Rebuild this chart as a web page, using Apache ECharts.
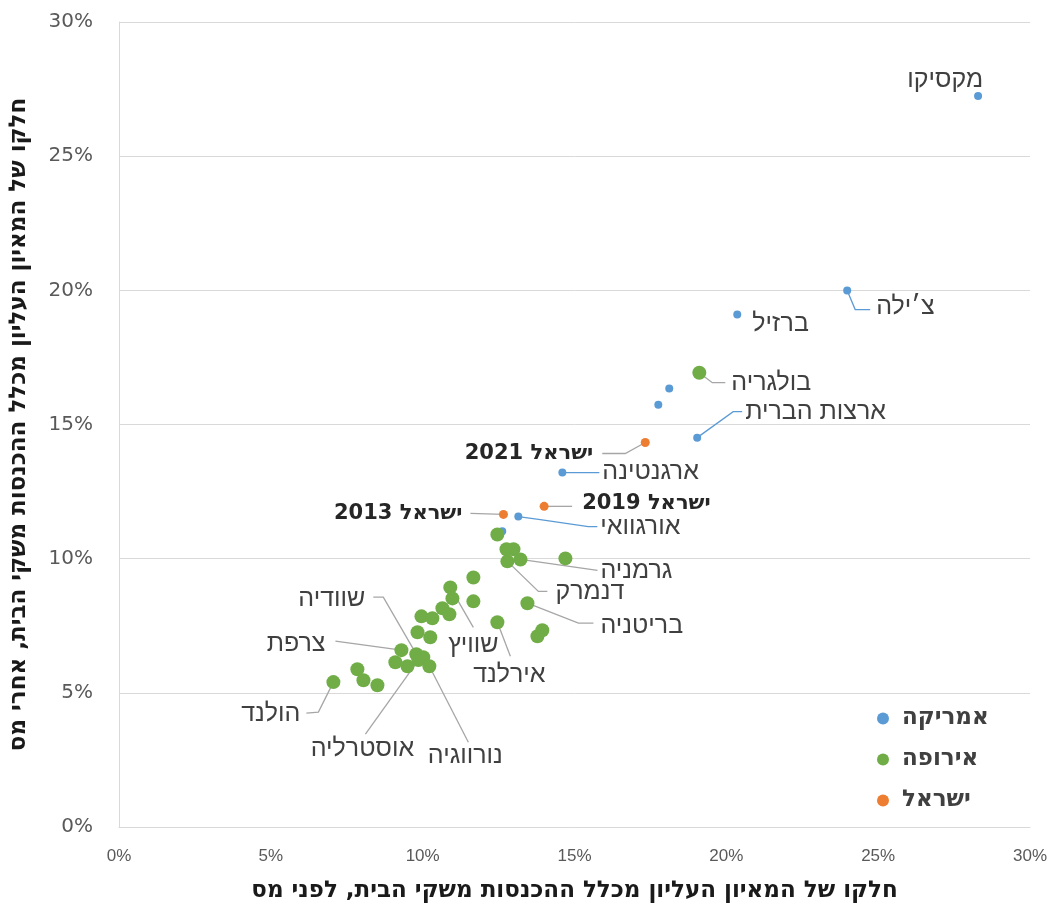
<!DOCTYPE html>
<html><head><meta charset="utf-8">
<script src="https://cdn.jsdelivr.net/npm/echarts@6/dist/echarts.min.js"></script>
<style>html,body{margin:0;padding:0;background:#fff}#c{width:1057px;height:908px}</style>
</head><body><div id="c"></div>
<script>
// ---- DATA ----
const xTicks = ['0%','5%','10%','15%','20%','25%','30%'];
const seriesNames = ['אמריקה','אירופה','ישראל'];

const americaNames = ['מקסיקו','צ׳ילה','ברזיל','','','ארצות הברית','ארגנטינה','אורגוואי',''];
const americaX = [28.29, 23.98, 20.36, 18.12, 17.76, 19.04, 14.60, 13.15, 12.62];
const americaY = [27.24, 19.99, 19.10, 16.34, 15.74, 14.51, 13.21, 11.57, 11.02];

const europeNames = ['בולגריה','','','','דנמרק','גרמניה','','','שוויץ','','','','','','',
  'בריטניה','אירלנד','','','','','צרפת','שוודיה','','אוסטרליה','','','נורווגיה','','','','הולנד'];
const europeX = [19.11, 12.46, 12.76, 12.99, 12.79, 13.22, 14.70, 11.67, 10.91, 10.98, 11.67, 10.65, 10.88, 9.96, 10.32,
  13.45, 12.46, 9.83, 10.25, 13.94, 13.78, 9.30, 9.79, 10.02, 9.86, 9.10, 9.50, 10.22, 7.85, 8.05, 8.51, 7.06];
const europeY = [16.93, 10.90, 10.35, 10.35, 9.90, 9.97, 10.01, 9.30, 8.93, 8.52, 8.41, 8.15, 7.93, 7.85, 7.78,
  8.34, 7.63, 7.26, 7.07, 7.33, 7.11, 6.59, 6.44, 6.33, 6.22, 6.14, 5.99, 5.99, 5.88, 5.47, 5.28, 5.40];

const israelNames = ['ישראל 2013','ישראל 2019','ישראל 2021'];
const israelX = [12.66, 14.00, 17.33];
const israelY = [11.65, 11.95, 14.33];

// ---- LAYOUT (pixel offsets of labels / leader lines relative to their point) ----
const labelLayout = {
  'מקסיקו':      {dx: 5,   dy: -16, align: 'right'},
  'צ׳ילה':       {dx: 29,  dy: 17,  align: 'left', line: [[0,0],[8,19],[23,19]]},
  'ברזיל':       {dx: 15,  dy: 10,  align: 'left'},
  'בולגריה':     {dx: 32,  dy: 10,  align: 'left', line: [[0,0],[13,10],[26,10]]},
  'ארצות הברית': {dx: 48,  dy: -26, align: 'left', line: [[0,0],[36,-26],[45,-26]]},
  'ארגנטינה':    {dx: 40,  dy: 0,   align: 'left', line: [[0,0],[37,0]]},
  'אורגוואי':    {dx: 82,  dy: 11,  align: 'left', line: [[0,0],[22,3],[70,10],[79,10]]},
  'ישראל 2013':  {dx: -41, dy: -1,  align: 'right', line: [[0,0],[-33,-1]]},
  'ישראל 2019':  {dx: 38,  dy: -3,  align: 'left', line: [[0,0],[28,0]]},
  'ישראל 2021':  {dx: -52, dy: 11,  align: 'right', line: [[0,0],[-20,11],[-43,11]]},
  'גרמניה':      {dx: 80,  dy: 12,  align: 'left', line: [[0,0],[70,10],[77,11]]},
  'דנמרק':       {dx: 48,  dy: 31,  align: 'left', line: [[0,0],[31,30],[40,30]]},
  'בריטניה':     {dx: 73,  dy: 23,  align: 'left', line: [[0,0],[51,20],[66,20]]},
  'שוודיה':      {dx: -51, dy: -55, align: 'right', line: [[0,0],[-33,-57],[-43,-57]]},
  'צרפת':        {dx: -76, dy: -6,  align: 'right', line: [[0,0],[-66,-9]]},
  'שוויץ':       {dx: 23,  dy: 58,  align: 'center', line: [[0,0],[23,40]]},
  'אירלנד':      {dx: 12,  dy: 53,  align: 'center', line: [[0,0],[13,34]]},
  'הולנד':       {dx: -33, dy: 32,  align: 'right', line: [[0,0],[-15,30],[-27,31]]},
  'אוסטרליה':    {dx: -56, dy: 89,  align: 'center', line: [[0,0],[-53,74]]},
  'נורווגיה':    {dx: 36,  dy: 90,  align: 'center', line: [[0,0],[39,76]]}
};

const colors = {america: '#5B9BD5', europe: '#70AD47', israel: '#ED7D31'};

function pts(xs, ys) { return xs.map((x, i) => [x, ys[i]]); }

const annotations = [];
function addAnn(names, xs, ys, lineColor, bold) {
  names.forEach((n, i) => { if (n) annotations.push({name: n, x: xs[i], y: ys[i], lineColor, bold}); });
}
addAnn(americaNames, americaX, americaY, colors.america, false);
addAnn(europeNames, europeX, europeY, '#A6A6A6', false);
addAnn(israelNames, israelX, israelY, '#A6A6A6', true);

const chart = echarts.init(document.getElementById('c'), null, {renderer: 'canvas'});
const hebFont = 'DejaVu Sans';

chart.setOption({
  animation: false,
  backgroundColor: '#fff',
  grid: {left: 119, right: 27, top: 22, bottom: 80, containLabel: false},
  legend: {
    orient: 'vertical', left: 872, top: 702, itemGap: 18, itemWidth: 12, itemHeight: 12,
    icon: 'circle',
    data: seriesNames,
    textStyle: {fontFamily: hebFont, fontSize: 23, fontWeight: 'bold', color: '#404040', padding: [0,0,0,8]}
  },
  xAxis: {
    type: 'value', min: 0, max: 30, interval: 5,
    name: 'חלקו של המאיון העליון מכלל ההכנסות משקי הבית, לפני מס',
    nameLocation: 'middle', nameGap: 53,
    nameTextStyle: {fontFamily: hebFont, fontSize: 23, fontWeight: 'bold', color: '#1a1a1a'},
    axisLine: {show: true, lineStyle: {color: '#D9D9D9'}},
    axisTick: {show: false},
    splitLine: {show: false},
    axisLabel: {formatter: v => xTicks[Math.round(v / 5)], margin: 21, fontFamily: 'Liberation Sans', fontSize: 17, color: '#595959'}
  },
  yAxis: {
    type: 'value', min: 0, max: 30, interval: 5,
    name: 'חלקו של המאיון העליון מכלל ההכנסות משקי הבית, אחרי מס',
    nameLocation: 'middle', nameGap: 88,
    nameTextStyle: {fontFamily: hebFont, fontSize: 23, fontWeight: 'bold', color: '#1a1a1a'},
    axisLine: {show: true, lineStyle: {color: '#D9D9D9'}},
    axisTick: {show: false},
    splitLine: {show: true, lineStyle: {color: '#D9D9D9'}},
    axisLabel: {formatter: v => xTicks[Math.round(v / 5)], margin: 26, fontFamily: 'DejaVu Sans', fontSize: 20, color: '#595959'}
  },
  series: [
    {
      type: 'custom', name: 'annotations', silent: true, z: 1,
      coordinateSystem: 'cartesian2d',
      dimensions: ['x','y','i'],
      encode: {x: 0, y: 1},
      data: annotations.map((a, i) => [a.x, a.y, i]),
      renderItem: function (params, api) {
        const a = annotations[api.value(2)];
        const L = labelLayout[a.name];
        const p = api.coord([api.value(0), api.value(1)]);
        const children = [];
        if (L.line) {
          children.push({
            type: 'polyline',
            shape: {points: L.line.map(o => [p[0] + o[0], p[1] + o[1]])},
            style: {stroke: a.lineColor, lineWidth: 1.3, fill: null}
          });
        }
        children.push({
          type: 'text', x: p[0] + L.dx, y: p[1] + L.dy,
          style: {
            text: a.name, fill: a.bold ? '#262626' : '#404040',
            font: a.bold ? ('bold 21px "' + hebFont + '"') : '25px "Liberation Sans"',
            align: L.align, verticalAlign: 'middle'
          }
        });
        return {type: 'group', children};
      }
    },
    {name: seriesNames[0], type: 'scatter', z: 2, symbolSize: 8, itemStyle: {color: colors.america, opacity: 1},
     data: pts(americaX, americaY)},
    {name: seriesNames[1], type: 'scatter', z: 3, symbolSize: 14, itemStyle: {color: colors.europe, opacity: 1},
     data: pts(europeX, europeY)},
    {name: seriesNames[2], type: 'scatter', z: 4, symbolSize: 9, itemStyle: {color: colors.israel, opacity: 1},
     data: pts(israelX, israelY)}
  ]
});
</script></body></html>
